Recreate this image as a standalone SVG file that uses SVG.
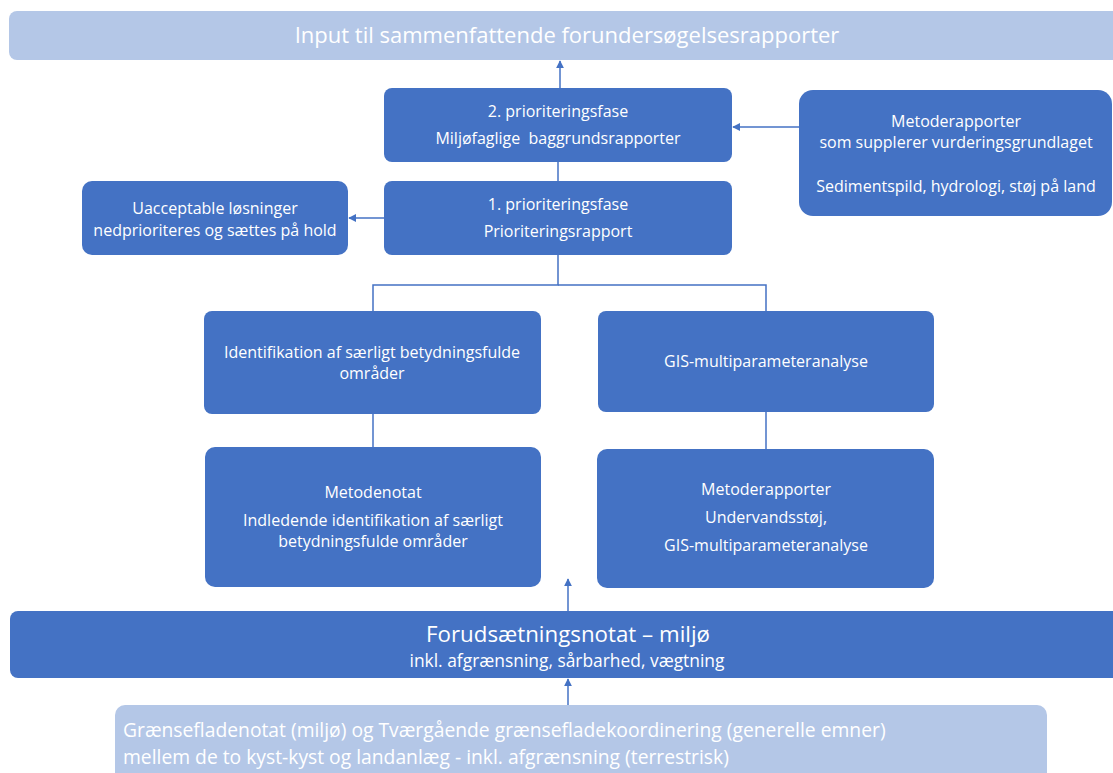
<svg xmlns="http://www.w3.org/2000/svg" width="1113" height="773" viewBox="0 0 1113 773">
<defs>
<style>
.n{fill:#4472C4;}
.l{fill:#B4C7E7;}
text{font-family:"Open Sans","Liberation Sans",Arial,sans-serif;fill:#fff;text-anchor:middle;}
.t15{font-size:16px;}
.c{stroke:#4472C4;stroke-width:1.5;fill:none;}
</style>
<marker id="ah" viewBox="0 0 10 10" refX="9" refY="5" markerWidth="8" markerHeight="8" markerUnits="userSpaceOnUse" orient="auto">
<path d="M0,0 L10,5 L0,10 z" fill="#4472C4"/>
</marker>
</defs>
<g id="connectors">
<line class="c" x1="560" y1="88" x2="560" y2="61" marker-end="url(#ah)"/>
<line class="c" x1="799" y1="127" x2="733" y2="127" marker-end="url(#ah)"/>
<line class="c" x1="558" y1="162" x2="558" y2="181"/>
<line class="c" x1="384" y1="218" x2="349" y2="218" marker-end="url(#ah)"/>
<polyline class="c" points="558,255 558,285 373,285 373,311"/>
<polyline class="c" points="558,285 766,285 766,311"/>
<line class="c" x1="373" y1="414" x2="373" y2="447"/>
<line class="c" x1="766" y1="412" x2="766" y2="449"/>
<line class="c" x1="568" y1="611" x2="568" y2="579" marker-end="url(#ah)"/>
<line class="c" x1="568" y1="705" x2="568" y2="679" marker-end="url(#ah)"/>
</g>
<g id="top">
<rect class="l" x="9" y="11" width="1120" height="49" rx="8"/>
<text x="567" y="43" style="font-size:22px">Input til sammenfattende forundersøgelsesrapporter</text>
</g>
<g id="fase2">
<rect class="n" x="384" y="88" width="348" height="74" rx="8"/>
<text class="t15" x="558" y="117">2. prioriteringsfase</text>
<text class="t15" x="558" y="144" xml:space="preserve">Miljøfaglige  baggrundsrapporter</text>
</g>
<g id="metoderapporter-top">
<rect class="n" x="799" y="90" width="313" height="126" rx="14"/>
<text class="t15" x="956" y="127">Metoderapporter</text>
<text class="t15" x="956" y="148">som supplerer vurderingsgrundlaget</text>
<text class="t15" x="956" y="192">Sedimentspild, hydrologi, støj på land</text>
</g>
<g id="fase1">
<rect class="n" x="384" y="181" width="348" height="74" rx="8"/>
<text class="t15" x="558" y="210">1. prioriteringsfase</text>
<text class="t15" x="558" y="237">Prioriteringsrapport</text>
</g>
<g id="uacceptable">
<rect class="n" x="82" y="181" width="266" height="74" rx="10"/>
<text class="t15" x="215" y="214">Uacceptable løsninger</text>
<text class="t15" x="215" y="236">nedprioriteres og sættes på hold</text>
</g>
<g id="identifikation">
<rect class="n" x="204" y="311" width="337" height="103" rx="8"/>
<text class="t15" x="372" y="358">Identifikation af særligt betydningsfulde</text>
<text class="t15" x="372" y="379">områder</text>
</g>
<g id="gis">
<rect class="n" x="598" y="311" width="336" height="101" rx="8"/>
<text class="t15" x="766" y="367">GIS-multiparameteranalyse</text>
</g>
<g id="metodenotat">
<rect class="n" x="205" y="447" width="336" height="140" rx="10"/>
<text class="t15" x="373" y="498">Metodenotat</text>
<text class="t15" x="373" y="526">Indledende identifikation af særligt</text>
<text class="t15" x="373" y="547">betydningsfulde områder</text>
</g>
<g id="metoderapporter-bottom">
<rect class="n" x="597" y="449" width="337" height="139" rx="10"/>
<text class="t15" x="766" y="495">Metoderapporter</text>
<text class="t15" x="766" y="523">Undervandsstøj,</text>
<text class="t15" x="766" y="551">GIS-multiparameteranalyse</text>
</g>
<g id="forudsaetning">
<rect class="n" x="10" y="611" width="1120" height="67" rx="8"/>
<text x="568" y="642" style="font-size:22.3px">Forudsætningsnotat – miljø</text>
<text x="567" y="667" style="font-size:17.4px">inkl. afgrænsning, sårbarhed, vægtning</text>
</g>
<g id="graensefladenotat">
<rect class="l" x="115" y="705" width="932" height="80" rx="10"/>
<text x="123" y="737" style="font-size:19.3px;text-anchor:start">Grænsefladenotat (miljø) og Tværgående grænsefladekoordinering (generelle emner)</text>
<text x="123" y="764" style="font-size:19.3px;text-anchor:start">mellem de to kyst-kyst og landanlæg - inkl. afgrænsning (terrestrisk)</text>
</g>
</svg>
